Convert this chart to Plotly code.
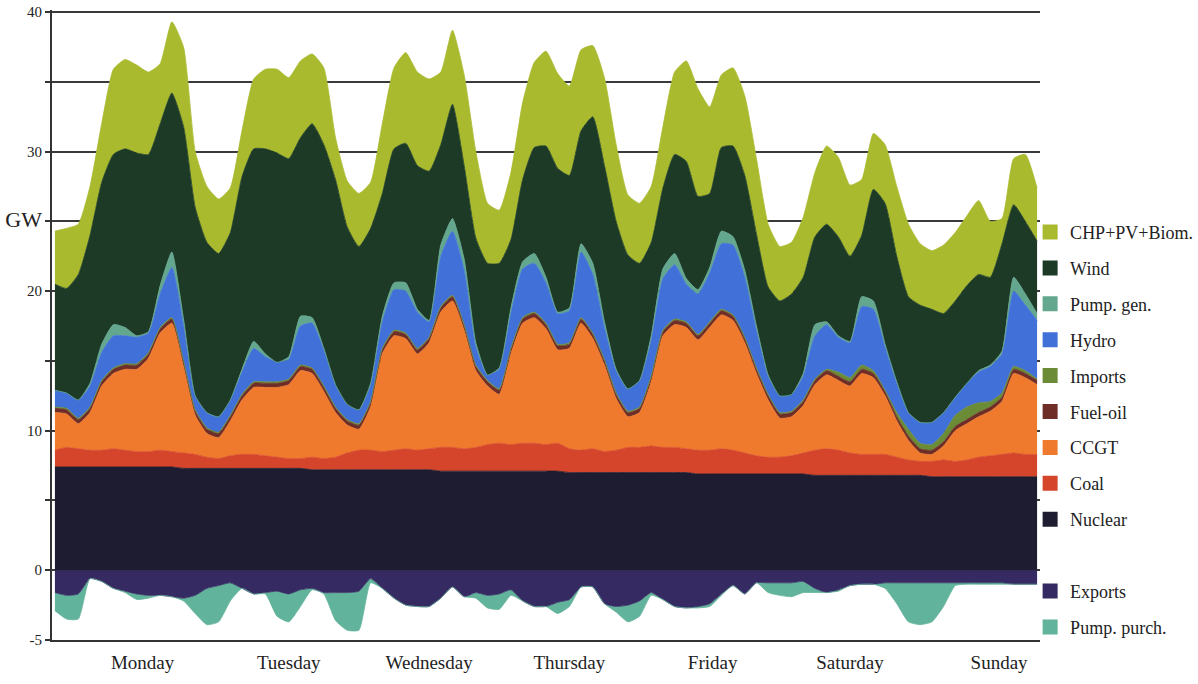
import plotly.graph_objects as go

# ---------------- data (GW, 2-hour steps, Monday 0h .. Sunday 24h) ----------------
hours = list(range(0, 169, 2))

days = ["Monday", "Tuesday", "Wednesday", "Thursday", "Friday", "Saturday", "Sunday"]

# upper edge of each stacked layer (cumulative GW)
nuclear_top = [7.4] * 11 + [7.3] * 11 + [7.2] * 11 + [7.1] * 11 + [7.0] * 11 + [6.9] * 10 + [6.8] * 10 + [6.7] * 10

coal_top = [
    8.6, 8.8, 8.7, 8.6, 8.6, 8.7, 8.6, 8.5, 8.5, 8.6, 8.5, 8.4,
    8.3, 8.1, 8.0, 8.2, 8.3, 8.3, 8.2, 8.1, 8.0, 8.0, 8.1, 8.0,
    8.1, 8.4, 8.6, 8.6, 8.5, 8.6, 8.7, 8.6, 8.7, 8.8, 8.8, 8.7,
    8.8, 9.0, 9.1, 9.0, 9.1, 9.1, 9.0, 9.1, 8.7, 8.6, 8.7, 8.5,
    8.6, 8.8, 8.8, 8.9, 8.8, 8.8, 8.7, 8.6, 8.6, 8.7, 8.6, 8.4,
    8.2, 8.1, 8.1, 8.2, 8.4, 8.6, 8.7, 8.6, 8.4, 8.3, 8.3, 8.3,
    8.1, 7.9, 7.8, 7.8, 7.9, 7.8, 7.9, 8.1, 8.2, 8.3, 8.4, 8.3,
    8.3]

ccgt_top = [
    11.3, 11.2, 10.5, 11.3, 13.2, 14.1, 14.4, 14.4, 15.2, 17.0, 17.7, 14.6,
    11.1, 9.8, 9.5, 10.7, 12.2, 13.1, 13.1, 13.1, 13.3, 14.3, 14.1, 12.8,
    11.3, 10.4, 10.1, 11.7, 15.5, 16.8, 16.6, 15.5, 16.3, 18.5, 19.3, 17.2,
    14.3, 13.2, 12.6, 15.5, 17.7, 18.1, 17.3, 15.8, 15.9, 17.7, 16.6, 14.7,
    12.3, 11.0, 11.3, 13.5, 16.8, 17.6, 17.4, 16.5, 17.4, 18.3, 17.9, 16.3,
    14.1, 12.2, 10.9, 11.0, 11.8, 13.3, 14.0, 13.6, 13.2, 14.1, 13.8, 12.5,
    10.7, 9.3, 8.4, 8.3, 8.9, 10.0, 10.5, 11.0, 11.4, 12.1, 14.1, 13.8,
    13.3]

fueloil_top = [
    11.6, 11.5, 10.8, 11.6, 13.5, 14.4, 14.7, 14.7, 15.5, 17.3, 18.0, 14.9,
    11.4, 10.1, 9.8, 11.0, 12.5, 13.4, 13.4, 13.4, 13.6, 14.6, 14.4, 13.1,
    11.6, 10.7, 10.4, 12.0, 15.8, 17.1, 16.9, 15.8, 16.6, 18.8, 19.6, 17.5,
    14.6, 13.5, 12.9, 15.8, 18.0, 18.4, 17.6, 16.1, 16.2, 18.0, 16.9, 15.0,
    12.6, 11.3, 11.6, 13.8, 17.1, 17.9, 17.7, 16.8, 17.7, 18.6, 18.2, 16.6,
    14.4, 12.5, 11.2, 11.3, 12.1, 13.6, 14.3, 13.9, 13.5, 14.4, 14.1, 12.8,
    11.0, 9.6, 8.7, 8.6, 9.2, 10.3, 10.8, 11.3, 11.7, 12.4, 14.4, 14.1,
    13.6]

imports_top = [
    11.7, 11.6, 10.9, 11.7, 13.6, 14.5, 14.8, 14.8, 15.6, 17.4, 18.1, 15.0,
    11.5, 10.2, 9.9, 11.1, 12.6, 13.5, 13.5, 13.5, 13.7, 14.7, 14.5, 13.2,
    11.7, 10.8, 10.5, 12.1, 15.9, 17.2, 17.0, 15.9, 16.7, 18.9, 19.7, 17.6,
    14.7, 13.6, 13.0, 15.9, 18.1, 18.5, 17.7, 16.2, 16.3, 18.1, 17.0, 15.1,
    12.7, 11.4, 11.7, 13.9, 17.2, 18.0, 17.8, 16.9, 17.8, 18.7, 18.3, 16.7,
    14.5, 12.6, 11.3, 11.4, 12.2, 13.7, 14.4, 14.2, 13.8, 14.7, 14.3, 12.9,
    11.3, 10.1, 9.1, 9.0, 9.8, 11.1, 11.7, 12.0, 12.1, 12.7, 14.6, 14.3,
    13.7]

hydro_top = [
    12.9, 12.7, 12.2, 13.2, 15.6, 16.8, 16.8, 16.7, 17.0, 19.8, 21.7, 17.6,
    12.5, 11.3, 11.0, 12.2, 14.2, 15.9, 15.3, 14.9, 15.1, 17.5, 17.7, 15.8,
    13.3, 11.9, 11.5, 13.3, 17.8, 20.1, 20.0, 18.5, 17.8, 22.5, 24.3, 21.5,
    16.0, 14.0, 14.4, 18.4, 21.6, 22.0, 20.6, 18.4, 18.6, 22.8, 21.2, 17.4,
    14.3, 13.0, 13.6, 16.5, 20.9, 21.9, 20.5, 19.8, 21.3, 23.4, 23.3, 21.0,
    17.2, 13.9, 12.5, 12.6, 13.9, 16.8, 17.6, 16.7, 16.3, 18.9, 18.7, 16.0,
    13.4, 11.3, 10.6, 10.6, 11.3, 12.4, 13.4, 14.2, 14.6, 15.5, 20.0, 19.0,
    17.9]

pumpgen_top = [
    12.9, 12.7, 12.2, 13.4, 16.2, 17.6, 17.4, 16.8, 17.1, 20.4, 22.8, 18.0,
    12.5, 11.3, 11.0, 12.2, 14.4, 16.4, 15.5, 14.9, 15.3, 18.2, 18.1, 15.9,
    13.3, 11.9, 11.5, 13.4, 18.2, 20.6, 20.6, 18.7, 17.9, 23.3, 25.2, 22.3,
    16.3, 14.0, 14.5, 18.8, 22.1, 22.7, 21.0, 18.5, 18.8, 23.4, 22.0, 17.8,
    14.4, 13.0, 13.6, 16.8, 21.6, 22.7, 20.9, 20.1, 21.7, 24.3, 23.9, 21.5,
    17.5, 14.0, 12.5, 12.6, 14.1, 17.6, 17.8, 16.8, 16.4, 19.6, 19.3, 16.2,
    13.5, 11.3, 10.6, 10.6, 11.3, 12.4, 13.4, 14.3, 14.7, 15.7, 21.0, 19.8,
    18.4]

wind_top = [
    20.5, 20.2, 21.2, 24.0, 27.8, 29.8, 30.2, 29.9, 29.8, 32.0, 34.2, 31.8,
    26.0, 23.5, 22.7, 24.2, 28.2, 30.2, 30.2, 29.9, 29.5, 31.0, 32.0, 30.5,
    28.0, 24.6, 23.2, 24.5, 27.0, 30.2, 30.6, 29.0, 28.6, 30.5, 33.4, 29.0,
    23.8, 22.0, 22.0, 23.7, 28.0, 30.3, 30.4, 28.8, 28.3, 31.5, 32.5, 29.0,
    25.0, 22.6, 22.0, 23.5, 27.4, 29.8, 29.3, 26.8, 27.0, 30.3, 30.4, 28.3,
    24.1, 20.3, 19.3, 19.8, 21.0, 23.9, 24.8, 23.9, 22.5, 24.0, 27.3, 26.3,
    22.5, 19.6, 19.0, 18.7, 18.4, 19.3, 20.4, 21.2, 21.0, 23.4, 26.2, 25.0,
    23.6]

chp_top = [
    24.3, 24.5, 24.8, 27.5, 32.0, 35.9, 36.6, 36.2, 35.7, 36.3, 39.3, 37.5,
    30.0, 27.5, 26.6, 27.4, 31.5, 35.2, 35.9, 35.9, 35.3, 36.5, 37.0, 36.0,
    31.0, 27.9, 27.0, 27.8, 32.0, 36.0, 37.1, 35.7, 35.2, 35.7, 38.7, 35.5,
    30.0, 26.3, 25.8, 28.5, 33.5, 36.4, 37.2, 35.6, 34.7, 37.3, 37.6, 35.3,
    30.5, 26.9, 26.3, 27.5, 31.8, 35.7, 36.5, 34.5, 33.2, 35.5, 36.0, 34.0,
    29.5, 24.8, 23.2, 23.5, 25.3, 28.5, 30.4, 29.6, 27.6, 28.0, 31.3, 30.5,
    27.5, 24.8, 23.4, 22.9, 23.3, 24.2, 25.4, 26.5, 25.0, 25.2, 29.5, 29.8,
    27.4]

# lower edge of the negative layers (cumulative GW below zero)
exports_bottom = [
    -1.6, -1.8, -1.7, -0.6, -0.8, -1.3, -1.5, -1.7, -1.8, -1.8, -1.9, -2.0,
    -1.8, -1.3, -1.1, -0.9, -1.3, -1.7, -1.6, -1.5, -1.7, -1.4, -1.3, -1.6,
    -1.6, -1.6, -1.5, -0.6, -1.3, -2.0, -2.5, -2.6, -2.6, -2.0, -1.2, -1.9,
    -1.6, -1.8, -1.7, -1.4, -2.2, -2.6, -2.6, -2.3, -2.1, -1.2, -1.2, -2.4,
    -2.6, -2.5, -2.2, -1.6, -2.1, -2.6, -2.7, -2.6, -2.4, -1.7, -1.1, -1.7,
    -0.9, -0.9, -0.9, -0.9, -0.8, -1.3, -1.6, -1.4, -1.1, -1.0, -1.0, -0.9,
    -0.9, -0.9, -0.9, -0.9, -0.9, -0.9, -0.9, -0.9, -0.9, -0.9, -1.0, -1.0,
    -1.0]

pumppurch_bottom = [
    -2.9, -3.5, -3.5, -0.6, -0.8, -1.3, -1.6, -2.1, -2.0, -1.8, -1.9, -2.2,
    -3.1, -3.9, -3.7, -2.2, -1.3, -1.7, -1.7, -3.3, -3.7, -2.6, -1.4, -1.7,
    -3.6, -4.3, -4.3, -0.9, -1.3, -2.0, -2.5, -2.6, -2.6, -2.0, -1.2, -1.9,
    -2.0, -2.7, -2.8, -1.8, -2.2, -2.6, -2.6, -3.1, -2.6, -1.2, -1.2, -2.4,
    -3.0, -3.7, -3.3, -1.8, -2.1, -2.6, -2.7, -2.7, -2.6, -1.8, -1.1, -1.7,
    -0.9, -1.6, -1.8, -1.9, -1.6, -1.6, -1.6, -1.5, -1.1, -1.0, -1.0, -1.3,
    -2.4, -3.7, -3.9, -3.7, -2.6, -1.1, -1.0, -1.0, -1.0, -1.0, -1.0, -1.0,
    -1.0]

# ---------------- styling ----------------
SERIF = "Liberation Serif, Times New Roman, serif"

positive_layers = [
    ("Nuclear", nuclear_top, "#1e1c30"),
    ("Coal", coal_top, "#d5452b"),
    ("CCGT", ccgt_top, "#ef7a2e"),
    ("Fuel-oil", fueloil_top, "#6e2d27"),
    ("Imports", imports_top, "#6b8b37"),
    ("Hydro", hydro_top, "#4070d8"),
    ("Pump. gen.", pumpgen_top, "#64a78f"),
    ("Wind", wind_top, "#1c3a25"),
    ("CHP+PV+Biom.", chp_top, "#a9ba2f"),
]
negative_layers = [
    ("Exports", exports_bottom, "#352a62"),
    ("Pump. purch.", pumppurch_bottom, "#62b39b"),
]

fig = go.Figure()

for i, (name, top, color) in enumerate(positive_layers):
    fig.add_trace(go.Scatter(
        x=hours, y=top, mode="lines", name=name,
        line=dict(width=0.8, color=color, shape="spline", smoothing=0.5),
        fill="tozeroy" if i == 0 else "tonexty", fillcolor=color,
        showlegend=False, hoverinfo="skip"))

for i, (name, bottom, color) in enumerate(negative_layers):
    fig.add_trace(go.Scatter(
        x=hours, y=bottom, mode="lines", name=name,
        line=dict(width=0.8, color=color, shape="spline", smoothing=0.5),
        fill="tozeroy" if i == 0 else "tonexty", fillcolor=color,
        showlegend=False, hoverinfo="skip"))

# legend entries (square swatches), top to bottom as in the original;
# a blank, slightly taller entry separates the export side from the supply side
legend_items = [(n, c) for n, _, c in reversed(positive_layers)] + \
               [("<span style='font-size:25px'> </span>", "rgba(0,0,0,0)")] + \
               [(n, c) for n, _, c in negative_layers]
for name, color in legend_items:
    fig.add_trace(go.Scatter(
        x=[None], y=[None], mode="markers", name=name, legendgroup=name,
        marker=dict(symbol="square", size=15, color=color, line=dict(width=0)),
        showlegend=True, hoverinfo="skip"))

day_tick_hours = [15, 40, 64, 88, 112.5, 136, 161.5]

y_ticks = [-5, 0, 5, 10, 15, 20, 25, 30, 35, 40]
y_labels = ["-5", "0", "", "10", "", "20", "<span style='font-size:22px'>GW</span>", "30", "", "40"]

fig.update_layout(
    width=1198, height=684,
    margin=dict(l=52, r=158, t=10, b=44, autoexpand=False),
    paper_bgcolor="white", plot_bgcolor="white",
    font=dict(family=SERIF, color="#222222"),
    showlegend=True,
    legend=dict(
        x=0.990, xanchor="left", y=0.6765, yanchor="top",
        traceorder="grouped", tracegroupgap=9.5,
        font=dict(family=SERIF, size=18, color="#222222"),
        bgcolor="rgba(0,0,0,0)", borderwidth=0,
    ),
    xaxis=dict(
        range=[-0.5, 168.5], showgrid=False, zeroline=False, automargin=False,
        showline=True, linecolor="#333333", linewidth=2,
        tickmode="array", tickvals=day_tick_hours, ticktext=days,
        ticks="outside", ticklen=4, tickcolor="rgba(0,0,0,0)",
        tickfont=dict(family=SERIF, size=19, color="#222222"),
    ),
    yaxis=dict(
        range=[-5, 40.15], zeroline=False, automargin=False,
        showgrid=True, gridcolor="#3a3a3a", gridwidth=2,
        showline=True, linecolor="#333333", linewidth=2,
        tickmode="array", tickvals=y_ticks, ticktext=y_labels,
        ticks="outside", ticklen=5, tickcolor="#333333", tickwidth=1.5,
        tickfont=dict(family=SERIF, size=15, color="#222222"),
    ),
)

# remove the browser's default 8px page margin so the figure fills the window exactly
fig.write_html("out.html", config={"displayModeBar": False},
               post_script="document.body.style.margin='0px';")
